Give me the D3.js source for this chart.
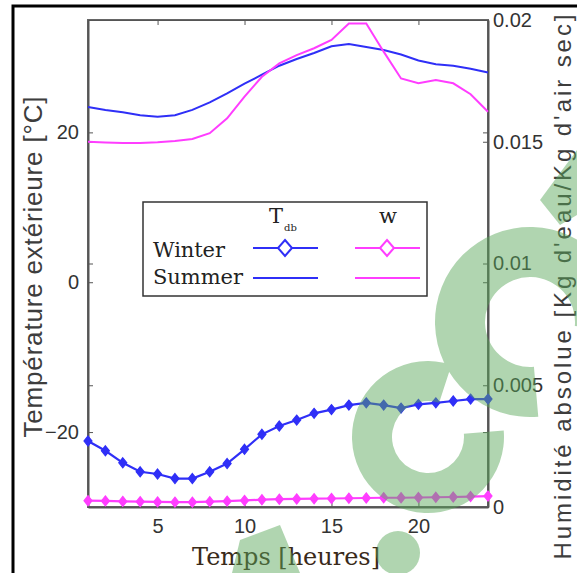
<!DOCTYPE html>
<html>
<head>
  <meta charset="UTF-8">
  <style>
    body {
      margin: 0;
      padding: 0;
      background: #fff;
    }
    svg {
      display: block;
    }
    .tick text {
      font-family: "Liberation Sans", Arial, sans-serif;
      font-size: 20px;
      fill: #333;
    }
    .axis path, .axis line {
      stroke: #555;
    }
    .legend-text {
      font-family: "DejaVu Serif", serif;
      font-size: 21px;
      fill: #222;
    }
  </style>
</head>
<body>
  <svg id="chart"></svg>
  <script src="https://d3js.org/d3.v7.min.js"></script>

  <script>
    const width = 577, height = 573;
    const margin = { top: 20, right: 89, bottom: 66, left: 88 };

    // hours of the day
    const hours = [1, 2, 3, 4, 5, 6, 7, 8, 9, 10, 11, 12, 13, 14, 15, 16, 17, 18, 19, 20, 21, 22, 23, 24];

    // dry bulb temperature [°C]
    const winterTdb = [-21.2, -22.5, -24.1, -25.3, -25.6, -26.2, -26.2, -25.3, -24.2, -22.3, -20.3, -19.2,
                       -18.4, -17.5, -17.0, -16.4, -16.1, -16.4, -16.8, -16.3, -16.1, -15.85, -15.6, -15.6];
    const summerTdb = [23.4, 23.0, 22.7, 22.3, 22.1, 22.3, 23.0, 24.0, 25.2, 26.5, 27.7, 28.9,
                       29.8, 30.6, 31.5, 31.8, 31.4, 31.0, 30.4, 29.6, 29.1, 28.9, 28.5, 28.0];

    // absolute humidity [kg water / kg dry air]
    const winterW = [0.00026, 0.00025, 0.00023, 0.00022, 0.00021, 0.0002, 0.0002, 0.00022, 0.00024, 0.00027, 0.0003, 0.00032,
                     0.00033, 0.00034, 0.00035, 0.00036, 0.00037, 0.00038, 0.00038, 0.00039, 0.0004, 0.00041, 0.00043, 0.00045];
    const summerW = [0.0150, 0.01497, 0.01495, 0.01495, 0.01498, 0.01503, 0.01511, 0.01535, 0.01596, 0.01685, 0.01767, 0.01822,
                     0.01856, 0.01884, 0.01918, 0.01986, 0.01986, 0.0187, 0.0176, 0.0174, 0.01754, 0.0174, 0.01695, 0.01623];

    const xTicks = [5, 10, 15, 20];
    const tTicks = [-20, 0, 20];
    const wTicks = [0, 0.005, 0.01, 0.015, 0.02];

    const blue = "#2f2ff7";
    const pink = "#ff3dff";

    const svg = d3.select("#chart")
        .attr("width", width)
        .attr("height", height);

    svg.append("rect")
        .attr("width", width)
        .attr("height", height)
        .attr("fill", "#fff");

    // outer figure frame
    svg.append("rect")
        .attr("x", 13)
        .attr("y", 6)
        .attr("width", 700)
        .attr("height", 700)
        .attr("fill", "none")
        .attr("stroke", "#000")
        .attr("stroke-width", 3);

    const x = d3.scaleLinear()
        .domain([1, 24])
        .range([margin.left, width - margin.right]);

    const yT = d3.scaleLinear()
        .domain([-30, 35])
        .range([height - margin.bottom, margin.top]);

    const yW = d3.scaleLinear()
        .domain([0, 0.02])
        .range([height - margin.bottom, margin.top]);

    const x0 = margin.left, x1 = width - margin.right;
    const y0 = height - margin.bottom, y1 = margin.top;

    // plot box
    svg.append("rect")
        .attr("x", x0)
        .attr("y", y1)
        .attr("width", x1 - x0)
        .attr("height", y0 - y1)
        .attr("fill", "none")
        .attr("stroke", "#666")
        .attr("stroke-width", 2);

    // axes (ticks pointing inward, mirrored on the opposite sides)
    svg.append("g")
        .attr("class", "axis")
        .attr("transform", `translate(0,${y0})`)
        .call(d3.axisBottom(x).tickValues(xTicks).tickSize(-5).tickPadding(12).tickSizeOuter(0))
        .call(g => g.select(".domain").attr("stroke-width", 2));

    svg.append("g")
        .attr("class", "axis")
        .attr("transform", `translate(0,${y1})`)
        .call(d3.axisTop(x).tickValues(xTicks).tickSize(-5).tickFormat("").tickSizeOuter(0));

    svg.append("g")
        .attr("class", "axis")
        .attr("transform", `translate(${x0},0)`)
        .call(d3.axisLeft(yT).tickValues(tTicks).tickSize(-5).tickPadding(9).tickSizeOuter(0))
        .call(g => g.select(".domain").attr("stroke-width", 2));

    svg.append("g")
        .attr("class", "axis")
        .attr("transform", `translate(${x1},0)`)
        .call(d3.axisRight(yT).tickValues(tTicks).tickSize(-5).tickFormat("").tickSizeOuter(0));

    svg.append("g")
        .attr("class", "axis")
        .attr("transform", `translate(${x1},0)`)
        .call(d3.axisRight(yW).tickValues(wTicks).tickSize(-5).tickPadding(5).tickSizeOuter(0)
            .tickFormat(d => d === 0 ? "0" : String(+d.toFixed(3))))
        .call(g => g.select(".domain").attr("stroke-width", 2).attr("stroke", "#444"));

    svg.append("g")
        .attr("class", "axis")
        .attr("transform", `translate(${x0},0)`)
        .call(d3.axisLeft(yW).tickValues(wTicks).tickSize(-5).tickFormat("").tickSizeOuter(0))
        .call(g => g.select(".domain").remove());

    // axis titles
    svg.append("text")
        .attr("x", 192)
        .attr("y", 565)
        .attr("font-family", "DejaVu Serif, serif")
        .attr("font-size", 24)
        .attr("fill", "#3a2a1a")
        .attr("textLength", 188)
        .text("Temps [heures]");

    svg.append("text")
        .attr("transform", "translate(42,267) rotate(-90)")
        .attr("text-anchor", "middle")
        .attr("font-family", "Liberation Sans, Arial, sans-serif")
        .attr("font-size", 26)
        .attr("fill", "#3d3d3d")
        .attr("textLength", 341)
        .text("Température extérieure [°C]");

    svg.append("text")
        .attr("transform", "translate(571,287) rotate(-90)")
        .attr("text-anchor", "middle")
        .attr("font-family", "Liberation Sans, Arial, sans-serif")
        .attr("font-size", 24)
        .attr("fill", "#3d3d3d")
        .attr("textLength", 545)
        .text("Humidité absolue [Kg d'eau/Kg d'air sec]");

    // lines
    const lineT = d3.line().x((d, i) => x(hours[i])).y(d => yT(d));
    const lineW = d3.line().x((d, i) => x(hours[i])).y(d => yW(d));

    const plot = svg.append("g");

    plot.append("path").datum(summerTdb)
        .attr("d", lineT).attr("fill", "none").attr("stroke", blue).attr("stroke-width", 2);
    plot.append("path").datum(summerW)
        .attr("d", lineW).attr("fill", "none").attr("stroke", pink).attr("stroke-width", 2);
    plot.append("path").datum(winterTdb)
        .attr("d", lineT).attr("fill", "none").attr("stroke", blue).attr("stroke-width", 2.2);
    plot.append("path").datum(winterW)
        .attr("d", lineW).attr("fill", "none").attr("stroke", pink).attr("stroke-width", 2.2);

    const diamond = "M0,-5L4,0L0,5L-4,0Z";

    plot.selectAll(".mT").data(winterTdb).enter().append("path")
        .attr("class", "mT")
        .attr("transform", (d, i) => `translate(${x(hours[i])},${yT(d)})`)
        .attr("d", diamond)
        .attr("fill", blue)
        .attr("stroke", blue)
        .attr("stroke-width", 1.2);

    plot.selectAll(".mW").data(winterW).enter().append("path")
        .attr("class", "mW")
        .attr("transform", (d, i) => `translate(${x(hours[i])},${yW(d)})`)
        .attr("d", diamond)
        .attr("fill", pink)
        .attr("stroke", pink)
        .attr("stroke-width", 1.2);

    // legend
    const legend = svg.append("g");
    legend.append("rect")
        .attr("x", 143).attr("y", 202)
        .attr("width", 284).attr("height", 94)
        .attr("fill", "#fff")
        .attr("stroke", "#333")
        .attr("stroke-width", 1.5);

    legend.append("text").attr("class", "legend-text").attr("x", 269).attr("y", 223).text("T");
    legend.append("text").attr("class", "legend-text").attr("x", 284).attr("y", 231)
        .style("font-size", "10px").text("db");
    legend.append("text").attr("class", "legend-text").attr("x", 388).attr("y", 223)
        .attr("text-anchor", "middle").text("w");
    legend.append("text").attr("class", "legend-text").attr("x", 153).attr("y", 257)
        .attr("textLength", 72).text("Winter");
    legend.append("text").attr("class", "legend-text").attr("x", 153).attr("y", 284)
        .attr("textLength", 90).text("Summer");

    const legendRows = [
      { y: 248, color: blue, x: 253, marker: true },
      { y: 248, color: pink, x: 355, marker: true },
      { y: 278, color: blue, x: 253, marker: false },
      { y: 278, color: pink, x: 355, marker: false }
    ];
    legendRows.forEach(r => {
        legend.append("line")
            .attr("x1", r.x).attr("x2", r.x + 65)
            .attr("y1", r.y).attr("y2", r.y)
            .attr("stroke", r.color).attr("stroke-width", 2);
        if (r.marker) {
            legend.append("path")
                .attr("transform", `translate(${r.x + 32},${r.y})`)
                .attr("d", "M0,-8L7,0L0,8L-7,0Z")
                .attr("fill", "#fff")
                .attr("stroke", r.color)
                .attr("stroke-width", 2);
        }
    });

    // faint green watermark shapes over the chart
    const mark = svg.append("g").attr("fill", "#5aa85a").attr("opacity", 0.48);
    const deg = Math.PI / 180;
    mark.append("path")
        .attr("transform", "translate(428,437)")
        .attr("d", d3.arc()({ innerRadius: 36, outerRadius: 76, startAngle: 85 * deg, endAngle: 378 * deg }));
    mark.append("path")
        .attr("transform", "translate(530,322)")
        .attr("d", d3.arc()({ innerRadius: 45, outerRadius: 95, startAngle: 175 * deg, endAngle: 455 * deg }));
    mark.append("path").attr("d", "M540,200L577,150L577,215L560,225Z");
    mark.append("circle").attr("cx", 398).attr("cy", 553).attr("r", 22);
    mark.append("path").attr("d", "M232,573L240,540L280,525L300,573Z");
  </script>
</body>
</html>
